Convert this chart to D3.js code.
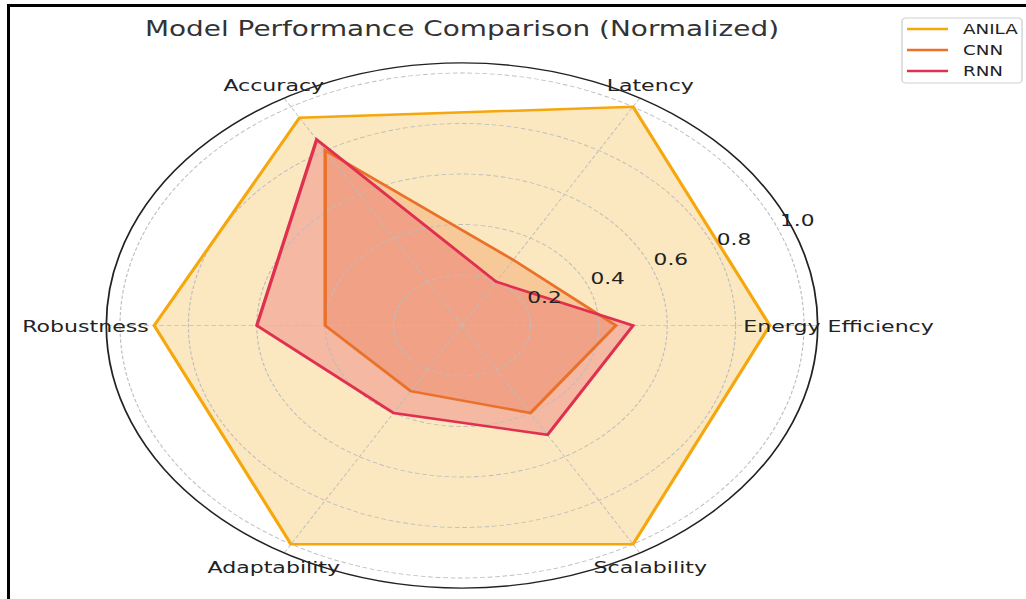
<!DOCTYPE html>
<html>
<head>
<meta charset="utf-8">
<script src="https://cdn.jsdelivr.net/npm/d3@7"></script>
<style>
  html, body { margin: 0; padding: 0; background: #fff; }
  svg { display: block; font-family: "DejaVu Sans", sans-serif; }
</style>
</head>
<body>
<svg id="chart" width="1026" height="599"></svg>
<script>
// ---- data ----
const categories = ["Energy Efficiency", "Latency", "Accuracy", "Robustness", "Adaptability", "Scalability"];
const seriesNames = ["ANILA", "CNN", "RNN"];
const anilaValues = [0.90, 1.00, 0.95, 0.90, 1.00, 1.00];
const cnnValues   = [0.45, 0.30, 0.80, 0.40, 0.30, 0.40];
const rnnValues   = [0.50, 0.20, 0.85, 0.60, 0.40, 0.50];
const radialTicks = [0.2, 0.4, 0.6, 0.8, 1.0];
const titleText = "Model Performance Comparison (Normalized)";

// ---- styles ----
const colors = ["#f5a70d", "#e9712a", "#e0304f"];
const sx = 1.3545;            // horizontal stretch of the whole figure
const cx = 462 / sx, cy = 325.5;
const unit = 252.5, rMax = 1.04;

const svg = d3.select("#chart");

// frame lines (outer coords)
svg.append("line").attr("x1", 8.5).attr("x2", 1026).attr("y1", 5.5).attr("y2", 5.5)
  .attr("stroke", "#000").attr("stroke-width", 3);
svg.append("line").attr("x1", 8.5).attr("x2", 8.5).attr("y1", 4).attr("y2", 599)
  .attr("stroke", "#000").attr("stroke-width", 3);

const g = svg.append("g").attr("transform", `scale(${sx},1)`);

const r = d3.scaleLinear().domain([0, 1]).range([0, unit]);
const n = categories.length;
const theta = i => i * 2 * Math.PI / n;          // counter-clockwise from east
const d3angle = i => Math.PI / 2 - theta(i);      // d3 radial angle (clockwise from north)

const plot = g.append("g").attr("transform", `translate(${cx},${cy})`);

const radial = d3.lineRadial()
  .angle((d, i) => d3angle(i))
  .radius(d => r(d))
  .curve(d3.curveLinearClosed);

const allSeries = [anilaValues, cnnValues, rnnValues];

// fills
allSeries.forEach((vals, k) => {
  plot.append("path").attr("d", radial(vals))
    .attr("fill", colors[k]).attr("fill-opacity", 0.26).attr("stroke", "none");
});

// grid circles
radialTicks.forEach(t => {
  plot.append("circle").attr("r", r(t))
    .attr("fill", "none").attr("stroke", "#bdbdbd").attr("stroke-width", 0.85)
    .attr("stroke-dasharray", "3.5,2");
});
// spokes
categories.forEach((c, i) => {
  plot.append("line")
    .attr("x1", 0).attr("y1", 0)
    .attr("x2", r(rMax) * Math.cos(theta(i)))
    .attr("y2", -r(rMax) * Math.sin(theta(i)))
    .attr("stroke", "#bdbdbd").attr("stroke-width", 0.75)
    .attr("stroke-dasharray", "3.5,2");
});

// lines
allSeries.forEach((vals, k) => {
  plot.append("path").attr("d", radial(vals))
    .attr("fill", "none").attr("stroke", colors[k]).attr("stroke-width", 2.5)
    .attr("stroke-linejoin", "miter");
});

// spine
plot.append("circle").attr("r", r(rMax))
  .attr("fill", "none").attr("stroke", "#222").attr("stroke-width", 1.3);

// radial tick labels at 22.5 deg
const la = 22.5 * Math.PI / 180;
radialTicks.forEach(t => {
  plot.append("text")
    .attr("x", r(t) * Math.cos(la) + 1.5)
    .attr("y", -r(t) * Math.sin(la) - 3)
    .attr("font-size", 16).attr("fill", "#222")
    .text(t.toFixed(1));
});

// category labels
const labelR = 278;
categories.forEach((c, i) => {
  plot.append("text")
    .attr("x", labelR * Math.cos(theta(i)))
    .attr("y", -labelR * Math.sin(theta(i)) + 6.4)
    .attr("text-anchor", "middle")
    .attr("font-size", 16.3).attr("fill", "#222")
    .text(c);
});

// title
g.append("text")
  .attr("x", cx).attr("y", 36)
  .attr("text-anchor", "middle")
  .attr("font-size", 20.6).attr("fill", "#333")
  .text(titleText);

// legend
const lg = g.append("g");
lg.append("rect")
  .attr("x", 902 / sx).attr("y", 18)
  .attr("width", (1022 - 902) / sx).attr("height", 65)
  .attr("rx", 3).attr("ry", 3)
  .attr("fill", "#fff").attr("fill-opacity", 0.8)
  .attr("stroke", "#d0d0d0").attr("stroke-width", 1);
seriesNames.forEach((name, k) => {
  const y = 29 + k * 21;
  lg.append("line")
    .attr("x1", 907 / sx).attr("x2", 948 / sx)
    .attr("y1", y).attr("y2", y)
    .attr("stroke", colors[k]).attr("stroke-width", 2.5);
  lg.append("text")
    .attr("x", 963 / sx).attr("y", y + 4.8)
    .attr("font-size", 13.5).attr("fill", "#222")
    .text(name);
});
</script>
</body>
</html>
